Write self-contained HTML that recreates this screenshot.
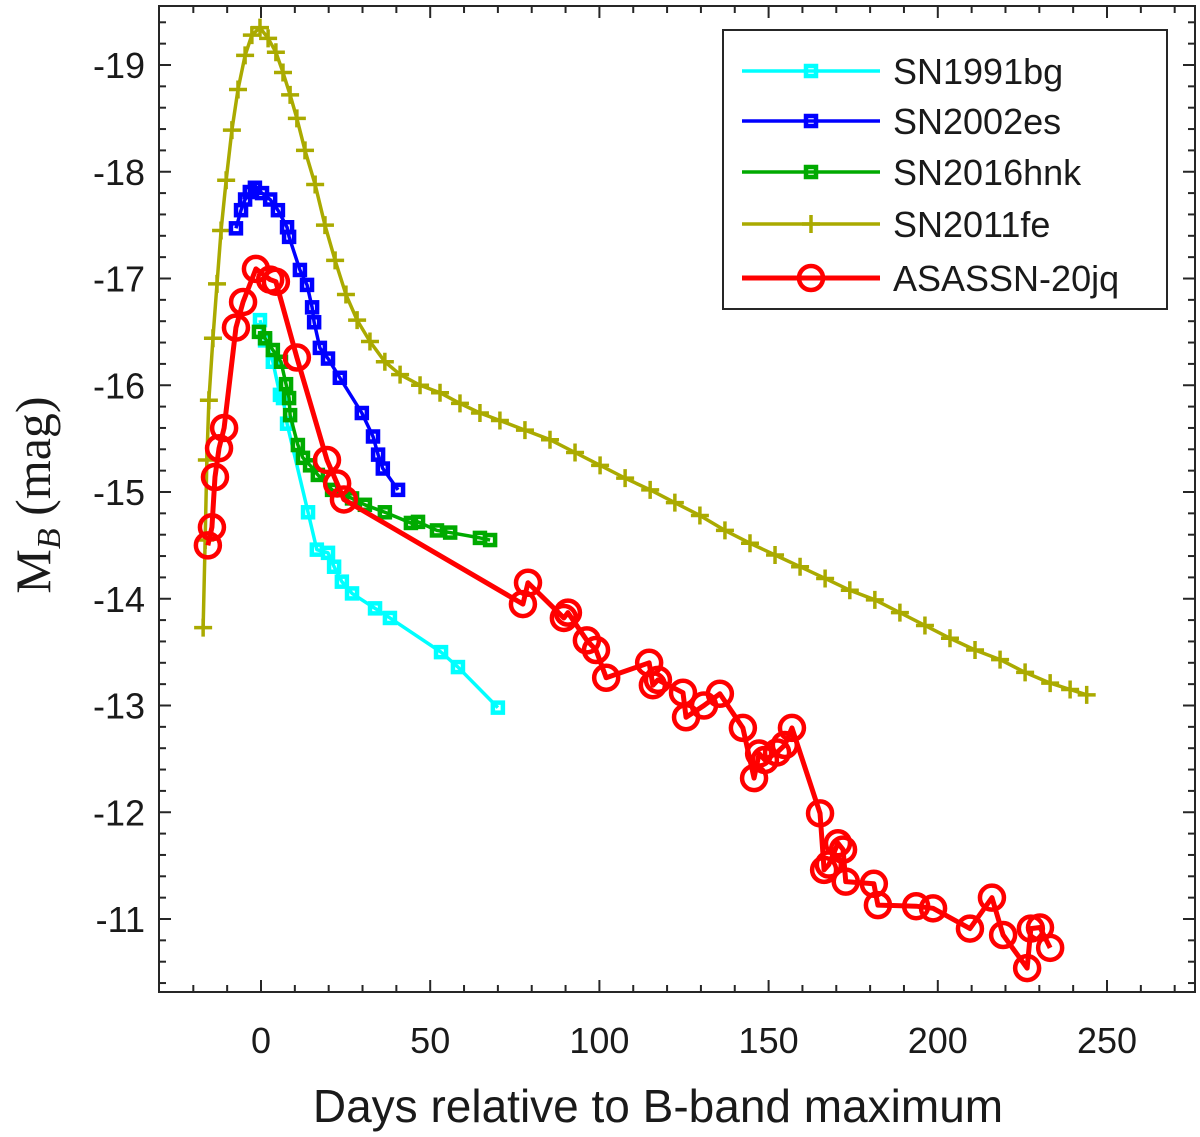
<!DOCTYPE html>
<html><head><meta charset="utf-8"><style>
body{margin:0;background:#fff}
svg text{font-family:"Liberation Sans",sans-serif;fill:#1a1a1a}
</style></head><body>
<svg id="chart" width="1200" height="1132" viewBox="0 0 1200 1132" xmlns="http://www.w3.org/2000/svg">
<rect x="0" y="0" width="1200" height="1132" fill="#fff"/>
<g id="axes"></g>
<g id="series"></g>
<rect x="159" y="6" width="1036" height="986" fill="none" stroke="#262626" stroke-width="2"/>
<text x="658" y="1122" font-size="46" text-anchor="middle">Days relative to B-band maximum</text>
<text transform="translate(50,495) rotate(-90)" font-size="50" text-anchor="middle" style="font-family:'Liberation Serif',serif">M<tspan font-size="34" font-style="italic" dy="10">B</tspan><tspan dy="-10">  (mag)</tspan></text>
<g id="legend"></g>
</svg>
<script>
const xTicks=[0,50,100,150,200,250];
const yTicks=[-19,-18,-17,-16,-15,-14,-13,-12,-11];
const names=["SN1991bg","SN2002es","SN2016hnk","SN2011fe","ASASSN-20jq"];
const colors=["#00ffff","#0000ff","#00aa00","#aaaa00","#ff0000"];
const bgDays=[-0.3,1.2,3.5,5.6,6.5,7.7,13.9,16.5,19.8,21.6,23.9,26.9,33.7,38.1,53.2,58.2,70];
const bgMag=[-16.61,-16.42,-16.22,-15.91,-15.88,-15.64,-14.81,-14.46,-14.43,-14.30,-14.16,-14.05,-13.91,-13.82,-13.50,-13.36,-12.98];
const esDays=[-7.4,-5.9,-4.7,-3.3,-1.8,0.3,2.7,5,7.7,8.3,11.5,13.6,15.1,15.7,17.4,19.8,23.3,29.8,33.1,34.6,36,40.5];
const esMag=[-17.47,-17.64,-17.74,-17.81,-17.85,-17.80,-17.74,-17.64,-17.48,-17.39,-17.08,-16.94,-16.73,-16.59,-16.35,-16.25,-16.07,-15.74,-15.52,-15.35,-15.22,-15.02];
const hnkDays=[-0.6,1.2,3.5,5.9,7.4,8.3,8.6,10.9,12.4,14.5,16.8,21,26.9,30.7,36.6,44.3,46.4,52,55.9,64.7,67.7];
const hnkMag=[-16.50,-16.44,-16.33,-16.22,-16.01,-15.88,-15.72,-15.44,-15.32,-15.25,-15.16,-15.02,-14.94,-14.88,-14.81,-14.71,-14.72,-14.64,-14.62,-14.57,-14.55];
const feDays=[-17.1,-16.5,-16,-15.4,-14.2,-13,-11.8,-10.3,-8.6,-6.8,-4.7,-2.7,-0.3,2.1,4.4,6.5,8.6,10.6,13,16,18.9,21.9,25.1,28.4,32.2,36.6,41.1,47,52.9,58.8,64.7,70.6,78,85.4,92.8,100.2,107.6,115,122.3,129.7,137.1,144.5,151.9,159.3,166.7,174,181.4,188.8,196.2,203.6,211,218.4,225.8,233.2,239.1,244];
const feMag=[-13.73,-14.55,-15.30,-15.86,-16.44,-16.95,-17.45,-17.92,-18.39,-18.77,-19.09,-19.28,-19.35,-19.25,-19.12,-18.93,-18.72,-18.50,-18.20,-17.88,-17.50,-17.17,-16.85,-16.61,-16.41,-16.22,-16.10,-16.00,-15.93,-15.83,-15.74,-15.67,-15.58,-15.49,-15.37,-15.25,-15.13,-15.02,-14.90,-14.78,-14.64,-14.52,-14.41,-14.30,-14.19,-14.08,-13.99,-13.87,-13.75,-13.63,-13.52,-13.43,-13.31,-13.21,-13.15,-13.10];
const jqDays=[-15.7,-14.5,-13.6,-12.4,-10.9,-7.4,-5.3,-1.5,2.7,4.4,10.6,19.5,22.5,24.5,77.4,78.9,89.5,90.7,96.3,99,102,114.7,115.8,117.3,124.7,125.6,130.9,135.6,142.4,145.7,147.2,148.9,152.5,154.8,156.9,165.2,166.4,167.8,170.5,172,172.8,181.1,182.3,193.6,198.6,209.5,216,219.3,226.4,227.5,230.2,233.2];
const jqMag=[-14.50,-14.67,-15.14,-15.41,-15.60,-16.54,-16.78,-17.09,-16.99,-16.97,-16.26,-15.30,-15.08,-14.93,-13.95,-14.15,-13.82,-13.87,-13.61,-13.52,-13.26,-13.40,-13.19,-13.24,-13.12,-12.89,-13.00,-13.11,-12.79,-12.32,-12.55,-12.49,-12.56,-12.63,-12.79,-11.99,-11.46,-11.51,-11.71,-11.65,-11.35,-11.33,-11.13,-11.12,-11.10,-10.91,-11.20,-10.85,-10.54,-10.91,-10.92,-10.73];

const NS="http://www.w3.org/2000/svg";
function X(d){return 261+d*3.384;}
function Y(m){return 65+(m+19)*106.75;}
function mk(tag,attrs,parent){const e=document.createElementNS(NS,tag);for(const k in attrs)e.setAttribute(k,attrs[k]);parent.appendChild(e);return e;}
const axes=document.getElementById('axes');
for(let d=-20;d<=270;d+=10){
  const big=d%50===0, L=big?12:7;
  const t=mk('line',{x1:X(d),x2:X(d),y1:992,y2:992-L,stroke:'#262626','stroke-width':2},axes);
  
  
  const t2=mk('line',{x1:X(d),x2:X(d),y1:6,y2:6+L,stroke:'#262626','stroke-width':2},axes);
  
  
}
xTicks.forEach(v=>{
  const t=mk('text',{x:X(v),y:1053,'font-size':36,'text-anchor':'middle'},axes);
  t.textContent=String(v);
  
  
});
for(let m=-19.4;m<=-10.4;m+=0.2){
  const mm=Math.round(m*10)/10, big=Math.abs(mm-Math.round(mm))<1e-6, L=big?12:7;
  const t=mk('line',{x1:159,x2:159+L,y1:Y(mm),y2:Y(mm),stroke:'#262626','stroke-width':2},axes);
  
  
  const t2=mk('line',{x1:1195,x2:1195-L,y1:Y(mm),y2:Y(mm),stroke:'#262626','stroke-width':2},axes);
  
  
}
yTicks.forEach(v=>{
  const t=mk('text',{x:145,y:Y(v)+13,'font-size':36,'text-anchor':'end'},axes);
  t.textContent=String(v);
  
  
});
const ser=document.getElementById('series');
function marker(type,x,y,c,g){
  let e;
  if(type==='sq'){e=mk('rect',{x:x-5,y:y-5,width:10,height:10,fill:'none',stroke:c,'stroke-width':4.5},g);}
  else if(type==='plus'){e=mk('path',{d:`M${x-9} ${y}H${x+9}M${x} ${y-9}V${y+9}`,stroke:c,'stroke-width':3.5,fill:'none'},g);}
  else {e=mk('circle',{cx:x,cy:y,r:12,fill:'none',stroke:c,'stroke-width':4.5},g);}
  
  
}
function drawSeries(days,mags,c,type,w,name){
  const g=mk('g',{},ser);
  
  
  const pts=days.map((d,i)=>X(d)+','+Y(mags[i])).join(' ');
  const pl=mk('polyline',{points:pts,fill:'none',stroke:c,'stroke-width':w,'stroke-linejoin':'round'},g);
  
  
  days.forEach((d,i)=>marker(type,X(d),Y(mags[i]),c,g));
}
drawSeries(feDays,feMag,colors[3],'plus',3.5,'sn2011fe-series');
drawSeries(bgDays,bgMag,colors[0],'sq',3.5,'sn1991bg-series');
drawSeries(esDays,esMag,colors[1],'sq',3.5,'sn2002es-series');
drawSeries(hnkDays,hnkMag,colors[2],'sq',3.5,'sn2016hnk-series');
drawSeries(jqDays,jqMag,colors[4],'circ',5,'asassn-20jq-series');
const leg=document.getElementById('legend');
const box=mk('rect',{x:723,y:30,width:444,height:279,fill:'#fff',stroke:'#262626','stroke-width':2},leg);


const legY=[71,121,172,224,278];
const legType=['sq','sq','sq','plus','circ'];
names.forEach((n,i)=>{
  const g=mk('g',{},leg);
  
  
  mk('line',{x1:742,x2:880,y1:legY[i],y2:legY[i],stroke:colors[i],'stroke-width':i===4?5:3.5},g);
  marker(legType[i],811,legY[i],colors[i],g);
  const t=mk('text',{x:893,y:legY[i]+13,'font-size':36},g);
  t.textContent=n;
  
  
});
</script>
</body></html>
